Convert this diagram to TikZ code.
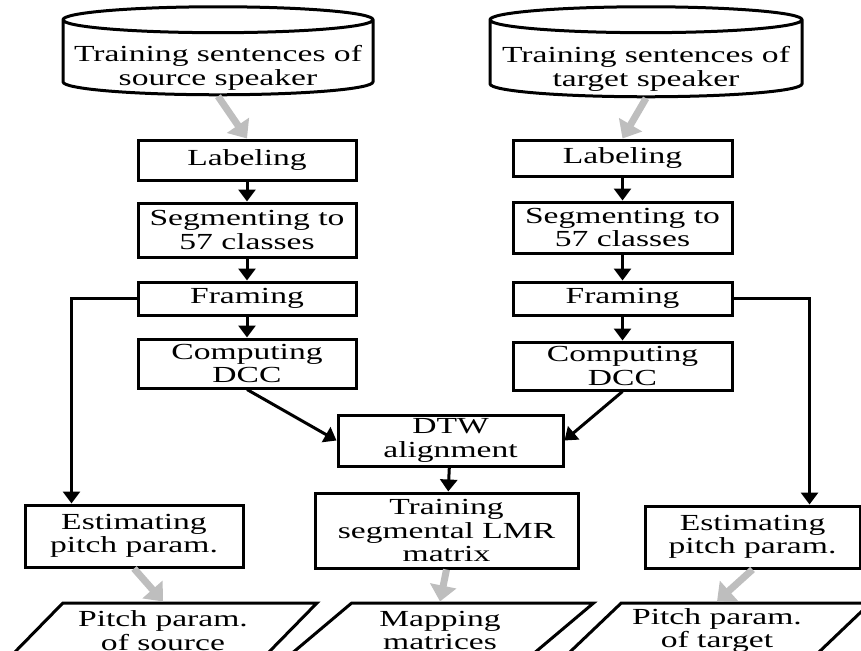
\documentclass[tikz,border=0pt]{standalone}
\usepackage{fontspec}
\setmainfont{Liberation Serif}[FakeStretch=1.46]
\usetikzlibrary{shapes.geometric, arrows.meta}

\definecolor{arrowgray}{RGB}{190,190,190}

\begin{document}
\begin{tikzpicture}[
    x=1pt, y=-1pt,
    box/.style={draw, line width=3pt, rectangle, align=center, inner sep=0pt, font=\fontsize{23}{23.5}\selectfont},
    db/.style={draw, line width=3pt, cylinder, shape border rotate=90, aspect=0.09, inner sep=0pt, font=\fontsize{23}{23.5}\selectfont},
    io/.style={draw, line width=3pt, trapezium, trapezium left angle=41, trapezium right angle=139, trapezium stretches=true, minimum width=308pt, minimum height=55pt, align=center, inner sep=0pt, font=\fontsize{23}{23.5}\selectfont},
    arrow/.style={line width=3pt, -{Triangle[length=12pt, width=17pt]}},
    bigarrow/.style={line width=7pt, draw=arrowgray, -{Triangle[length=16pt, width=26pt]}}
]
\useasboundingbox (0,0) rectangle (861,650);
\clip (0,0) rectangle (861,650);

% Databases (text sits low in the body)
\node[db, minimum width=310pt, minimum height=88pt] (srcdb) at (218,58)
    {\raisebox{-11pt}[\height][\depth]{\begin{tabular}{@{}c@{}}Training sentences of\\source speaker\end{tabular}}};
\node[db, minimum width=312pt, minimum height=90pt] (tgtdb) at (646,59)
    {\raisebox{-11pt}[\height][\depth]{\begin{tabular}{@{}c@{}}Training sentences of\\target speaker\end{tabular}}};

% Source column
\node[box, minimum width=218pt, minimum height=40pt] (lab1) at (247,160) {Labeling};
\node[box, minimum width=218pt, minimum height=54pt] (seg1) at (247,230) {Segmenting to\\57 classes};
\node[box, minimum width=218pt, minimum height=33pt] (frm1) at (247,298.5) {Framing};
\node[box, minimum width=218pt, minimum height=49pt] (dcc1) at (247,363.5) {Computing\\DCC};

% Target column
\node[box, minimum width=219pt, minimum height=36pt] (lab2) at (622.5,158) {Labeling};
\node[box, minimum width=219pt, minimum height=51pt] (seg2) at (622.5,227.5) {Segmenting to\\57 classes};
\node[box, minimum width=219pt, minimum height=33pt] (frm2) at (622.5,298.5) {Framing};
\node[box, minimum width=219pt, minimum height=48pt] (dcc2) at (622.5,366) {Computing\\DCC};

% Middle
\node[box, minimum width=225pt, minimum height=51pt] (dtw) at (450.5,440.5) {DTW\\alignment};
\node[box, minimum width=263pt, minimum height=75pt] (lmr) at (446.5,530.5) {Training\\segmental LMR\\matrix};

% Pitch estimation
\node[box, minimum width=218pt, minimum height=62pt] (est1) at (134,536) {Estimating\\pitch param.};
\node[box, minimum width=215pt, minimum height=62pt] (est2) at (752.5,537) {Estimating\\pitch param.};

% Outputs
\node[io] (pitch1) at (163,630.5) {Pitch param.\\of source};
\node[io] (map) at (440,630.5) {Mapping\\matrices};
\node[io] (pitch2) at (717,630.5) {Pitch param.\\of target};

% Connections
\foreach \a/\b in {lab1/seg1, seg1/frm1, frm1/dcc1, lab2/seg2, seg2/frm2, frm2/dcc2, dtw/lmr}
    \draw[arrow] (\a) -- (\b);
\draw[arrow] (dcc1.south) -- (dtw.west);
\draw[arrow] (dcc2.south) -- (dtw.east);
\draw[arrow] (frm1.west) -- ++(-65,0) coordinate (t1) -- (t1 |- est1.north);
\draw[arrow] (frm2.east) -- ++(76,0) coordinate (t2) -- (t2 |- est2.north);

% Data flow
\draw[bigarrow] (srcdb.south) -- (lab1.north);
\draw[bigarrow] (tgtdb.south) -- (lab2.north);
\draw[bigarrow] (est1.south) -- (pitch1.north);
\draw[bigarrow] (lmr.south) -- (map.north);
\draw[bigarrow] (est2.south) -- (pitch2.north);

\end{tikzpicture}
\end{document}
